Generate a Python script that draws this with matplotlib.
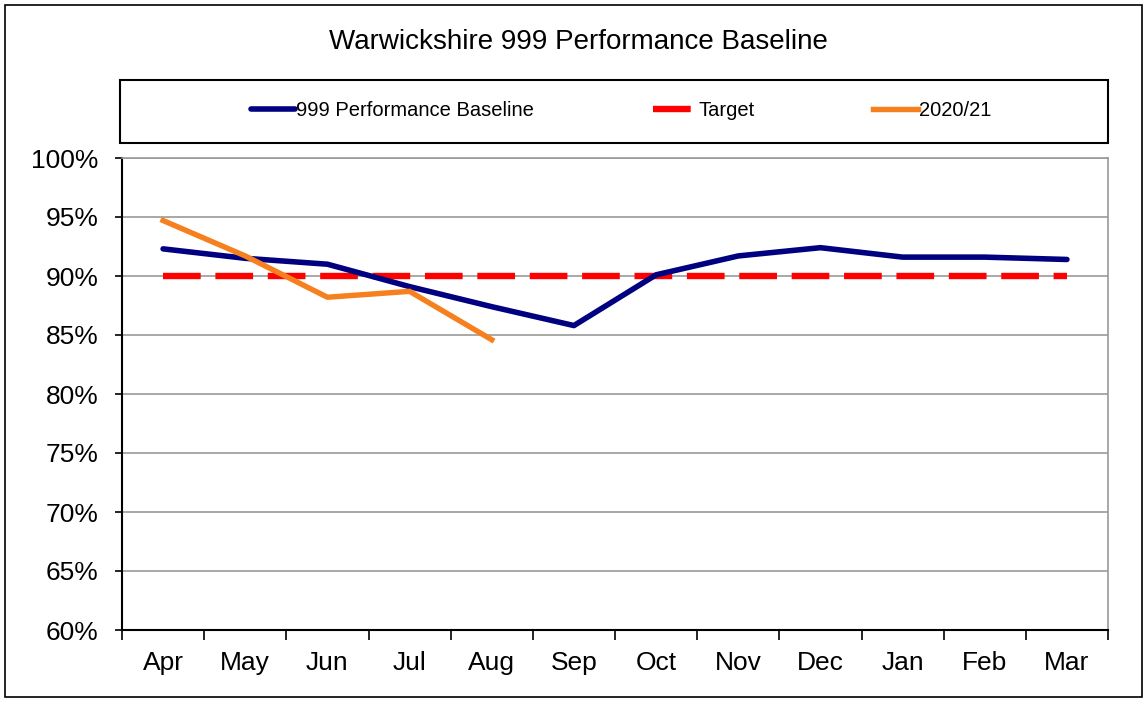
import numpy as np
import matplotlib.pyplot as plt
from matplotlib.patches import Rectangle
from matplotlib.ticker import FuncFormatter

plt.rcParams['font.family'] = ['Liberation Sans', 'DejaVu Sans']

# Data
months = ['Apr', 'May', 'Jun', 'Jul', 'Aug', 'Sep', 'Oct', 'Nov', 'Dec', 'Jan', 'Feb', 'Mar']
baseline = [92.3, 91.5, 91.0, 89.1, 87.4, 85.8, 90.1, 91.7, 92.4, 91.6, 91.6, 91.4]
target = [90, 90, 90, 90, 90, 90, 90, 90, 90, 90, 90, 90]
season_2021 = [94.7, 91.7, 88.2, 88.7, 84.6]

W, H = 1147, 702
fig = plt.figure(figsize=(W / 100, H / 100), dpi=100)
ax = fig.add_axes([122 / W, 1 - 630 / H, (1108 - 122) / W, (630 - 158) / H])

x = np.arange(len(months))
x20 = np.arange(len(season_2021))

ax.plot(x, baseline, color='#000080', lw=4.0, solid_capstyle='round',
        solid_joinstyle='round', label='999 Performance Baseline', zorder=3)
ax.plot(x, target, color='#FF0000', lw=4.6, dashes=(5.9, 2.3),
        dash_capstyle='butt', label='Target', zorder=2)
ax.plot(x20, season_2021, color='#F7801E', lw=3.9, solid_capstyle='projecting',
        solid_joinstyle='round', label='2020/21', zorder=4)

ax.set_xlim(-0.5, len(months) - 0.5)
ax.set_ylim(60, 100)
ax.set_yticks(np.arange(60, 101, 5))
ax.yaxis.set_major_formatter(FuncFormatter(lambda v, p: f'{v:.0f}%'))
ax.grid(axis='y', color='#999999', lw=1.2)
ax.set_axisbelow(True)

ax.set_xticks(np.arange(-0.5, len(months), 1.0))
ax.set_xticklabels([])
ax.set_xticks(x, minor=True)
ax.set_xticklabels(months, minor=True)
ax.tick_params(axis='x', which='major', direction='out', length=7, width=1.2, color='black')
ax.tick_params(axis='x', which='minor', length=0, pad=15, labelsize=19)
ax.tick_params(axis='y', direction='out', length=5, width=1.2, pad=12, labelsize=19)

for side in ['left', 'bottom']:
    ax.spines[side].set_color('black')
    ax.spines[side].set_linewidth(1.5)
for side in ['top', 'right']:
    ax.spines[side].set_color('#999999')
    ax.spines[side].set_linewidth(1.2)

# Figure frame, title and legend box
fig.patches.append(Rectangle((5 / W, 5 / H), (W - 10) / W, (H - 10) / H,
                             transform=fig.transFigure, fill=False,
                             edgecolor='black', lw=1.2))
fig.text(578 / W, 1 - 42 / H, 'Warwickshire 999 Performance Baseline',
         ha='center', va='center', fontsize=20)
fig.patches.append(Rectangle((120 / W, 1 - 143 / H), (1108 - 120) / W, (143 - 80) / H,
                             transform=fig.transFigure, fill=False,
                             edgecolor='black', lw=1.5))
fig.legend(loc='center', bbox_to_anchor=(621 / W, 1 - 111 / H), ncol=3,
           frameon=False, fontsize=14.5, handlelength=2.2, handletextpad=0.05,
           columnspacing=5.9)

fig.savefig('out.png', dpi=100)
